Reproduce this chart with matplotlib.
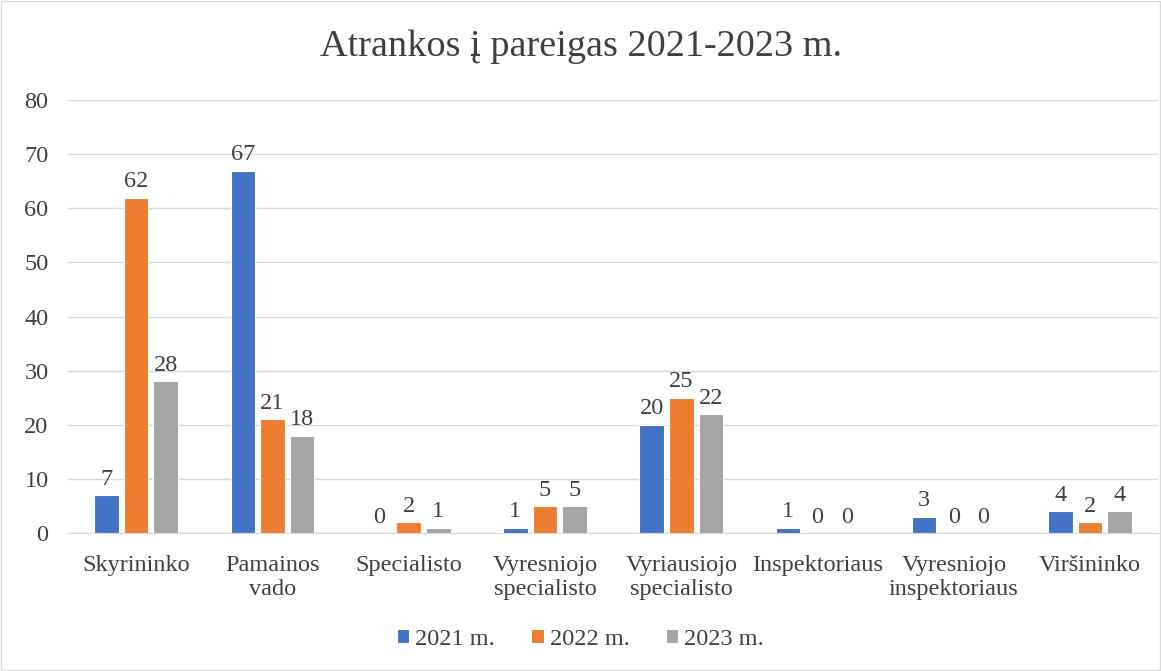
import matplotlib
matplotlib.use("Agg")
import matplotlib.pyplot as plt
import numpy as np
from matplotlib.patches import Rectangle

categories = ["Skyrininko", "Pamainos\nvado", "Specialisto", "Vyresniojo\nspecialisto",
              "Vyriausiojo\nspecialisto", "Inspektoriaus", "Vyresniojo\ninspektoriaus", "Viršininko"]
series_names = ["2021 m.", "2022 m.", "2023 m."]
v2021 = [7, 67, 0, 1, 20, 1, 3, 4]
v2022 = [62, 21, 2, 5, 25, 0, 0, 2]
v2023 = [28, 18, 1, 5, 22, 0, 0, 4]
colors = ["#4472C4", "#ED7D31", "#A5A5A5"]

plt.rcParams['font.family'] = ['Liberation Serif', 'DejaVu Serif']
fig = plt.figure(figsize=(11.61, 6.71), dpi=100)
ax = fig.add_axes([0.0586, 0.2057, 0.939, 0.645])
x = np.arange(len(categories))
w = 0.18
step = 0.217
fs = 17.5
for i, (vals, name, c) in enumerate(zip([v2021, v2022, v2023], series_names, colors)):
    bars = ax.bar(x + (i - 1) * step, vals, w, color=c, edgecolor="white", linewidth=0.8, label=name, zorder=3)
    for b, v in zip(bars, vals):
        ax.text(b.get_x() + b.get_width() / 2, v + 1.0, str(v), ha="center", va="bottom",
                fontsize=fs, color="#404040")

ax.set_xlim(-0.5, len(categories) - 0.5)
ax.set_ylim(0, 80)
ax.set_yticks(range(0, 81, 10))
ax.grid(axis="y", color="#D9D9D9", linewidth=1, zorder=0)
for s in ["top", "right", "left"]:
    ax.spines[s].set_visible(False)
ax.spines["bottom"].set_color("#D9D9D9")
ax.tick_params(axis="both", length=0, labelsize=fs, pad=14)
ax.tick_params(axis="x", pad=16)
ax.set_xticks(x)
ax.set_xticklabels(categories, linespacing=1.2)
for t in ax.get_xticklabels() + ax.get_yticklabels():
    t.set_color("#404040")

fig.text(0.5, 0.93, "Atrankos į pareigas 2021-2023 m.", ha="center", va="center", fontsize=27.5, color="#404040")
leg = fig.legend(loc="center", bbox_to_anchor=(0.5, 0.047), ncol=3, frameon=False, fontsize=fs,
                 handlelength=0.5, handleheight=0.5, handletextpad=0.25, columnspacing=1.5, labelcolor="#404040")
fig.add_artist(Rectangle((0.001, 0.001), 0.998, 0.997, transform=fig.transFigure, fill=False,
                         edgecolor="#D9D9D9", linewidth=1))
fig.savefig("out.png", dpi=100)
